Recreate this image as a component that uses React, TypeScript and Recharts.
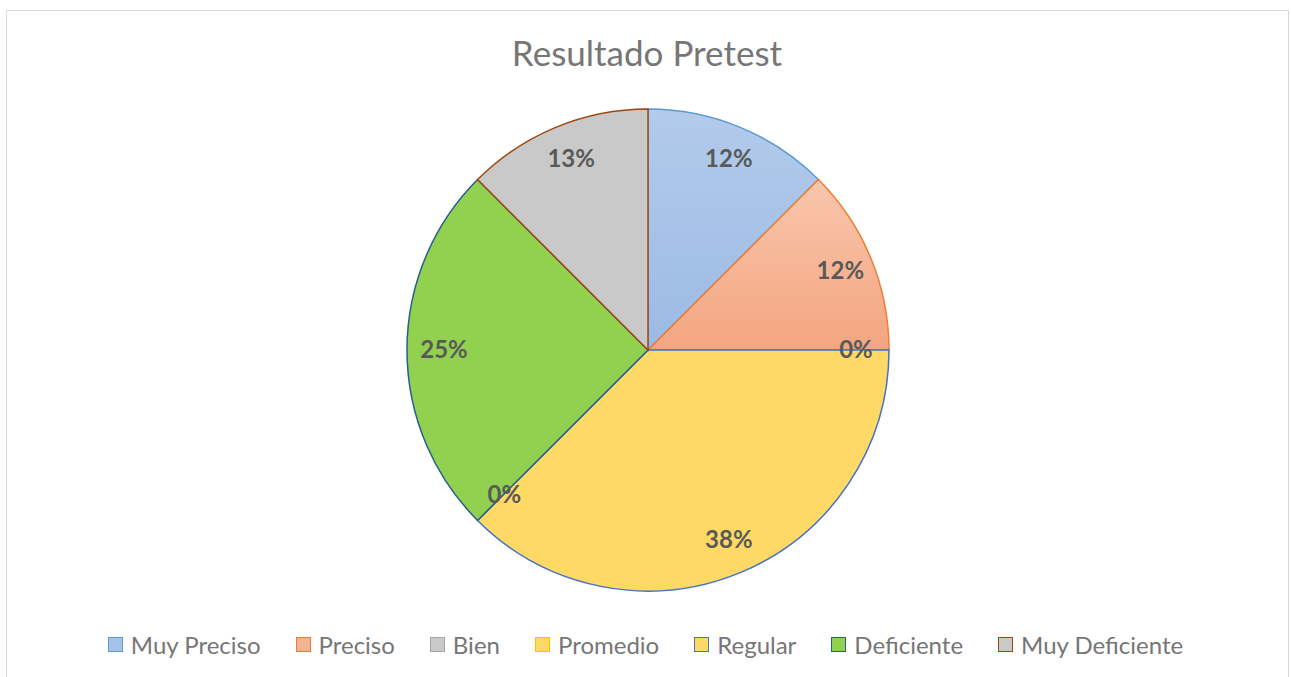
import React from "react";
import { PieChart, Pie, Cell, Legend } from "recharts";

// niveles del pretest (8 estudiantes)
const categories = [
  "Muy Preciso",
  "Preciso",
  "Bien",
  "Promedio",
  "Regular",
  "Deficiente",
  "Muy Deficiente",
];
const counts = [1, 1, 0, 3, 0, 2, 1];
const percentLabels = ["12%", "12%", "0%", "38%", "0%", "25%", "13%"];

const sliceFills = [
  "url(#gradBlue)",
  "url(#gradOrange)",
  "#c9c9c9",
  "#ffd966",
  "#ffd966",
  "#92d050",
  "#c9c9c9",
];
const sliceStrokes = [
  "#5b9bd5",
  "#ed7d31",
  "#a5a5a5",
  "#4472c4",
  "#4472c4",
  "#255e91",
  "#9e480e",
];
const legendFills = ["#a5c2e8", "#f6b394", "#c9c9c9", "#ffd966", "#ffd966", "#92d050", "#c9c9c9"];
const legendStrokes = ["#5b9bd5", "#ed7d31", "#a5a5a5", "#ffc000", "#4472c4", "#255e91", "#9e480e"];

const chartData = categories.map((name, i) => ({ name, value: counts[i] }));

const FONT = "Lato, 'Open Sans', sans-serif";
const RADIAN = Math.PI / 180;

const renderLabel = (props: any) => {
  const { cx, cy, midAngle, index } = props;
  const r = 206;
  const x = cx + r * Math.cos(-midAngle * RADIAN);
  const y = cy + r * Math.sin(-midAngle * RADIAN);
  return (
    <text
      x={x + 2}
      y={y - 2}
      textAnchor="middle"
      dominantBaseline="central"
      fill="#595959"
      fontFamily={FONT}
      fontWeight="bold"
      fontSize={24}
    >
      {percentLabels[index]}
    </text>
  );
};

const renderLegend = () => (
  <div
    style={{
      display: "flex",
      justifyContent: "center",
      alignItems: "center",
      fontFamily: FONT,
      fontSize: 24,
      color: "#767676",
    }}
  >
    {categories.map((name, i) => (
      <div key={name} style={{ display: "flex", alignItems: "center", marginRight: i < categories.length - 1 ? 35 : 0 }}>
        <span
          style={{
            display: "inline-block",
            width: 13,
            height: 13,
            background: legendFills[i],
            border: `1.5px solid ${legendStrokes[i]}`,
            marginRight: 8,
          }}
        />
        <span>{name}</span>
      </div>
    ))}
  </div>
);

export default function App() {
  return (
    <div style={{ position: "absolute", left: 0, top: 0, width: 1291, height: 677, overflow: "hidden", background: "#fff" }}>
      <div
        style={{
          position: "absolute",
          left: 6,
          top: 10,
          width: 1281,
          height: 700,
          border: "1.5px solid #d9d9d9",
        }}
      />
      <svg style={{ position: "absolute", left: 0, top: 0 }} width={1291} height={100}>
        <text x={647} y={66} textAnchor="middle" fill="#767676" fontFamily={FONT} fontSize={35}>
          Resultado Pretest
        </text>
      </svg>
      <div style={{ position: "absolute", left: 0, top: 0 }}>
        <PieChart width={1291} height={677} margin={{ top: 0, right: 0, bottom: 0, left: 0 }}>
          <defs>
            <linearGradient id="gradBlue" x1="0" y1="0" x2="0" y2="1">
              <stop offset="0%" stopColor="#b3cbeb" />
              <stop offset="100%" stopColor="#9bbae5" />
            </linearGradient>
            <linearGradient id="gradOrange" x1="0" y1="0" x2="0" y2="1">
              <stop offset="0%" stopColor="#f9c6ad" />
              <stop offset="100%" stopColor="#f4a580" />
            </linearGradient>
          </defs>
          <Pie
            data={chartData}
            dataKey="value"
            nameKey="name"
            cx={648}
            cy={350}
            outerRadius={241}
            startAngle={90}
            endAngle={-270}
            label={renderLabel}
            labelLine={false}
            isAnimationActive={false}
          >
            {chartData.map((d, i) => (
              <Cell key={d.name} fill={sliceFills[i]} stroke={sliceStrokes[i]} strokeWidth={1.5} />
            ))}
          </Pie>
          <Legend
            content={renderLegend}
            wrapperStyle={{ position: "absolute", left: 0, top: 630, width: 1291 }}
          />
        </PieChart>
      </div>
    </div>
  );
}
